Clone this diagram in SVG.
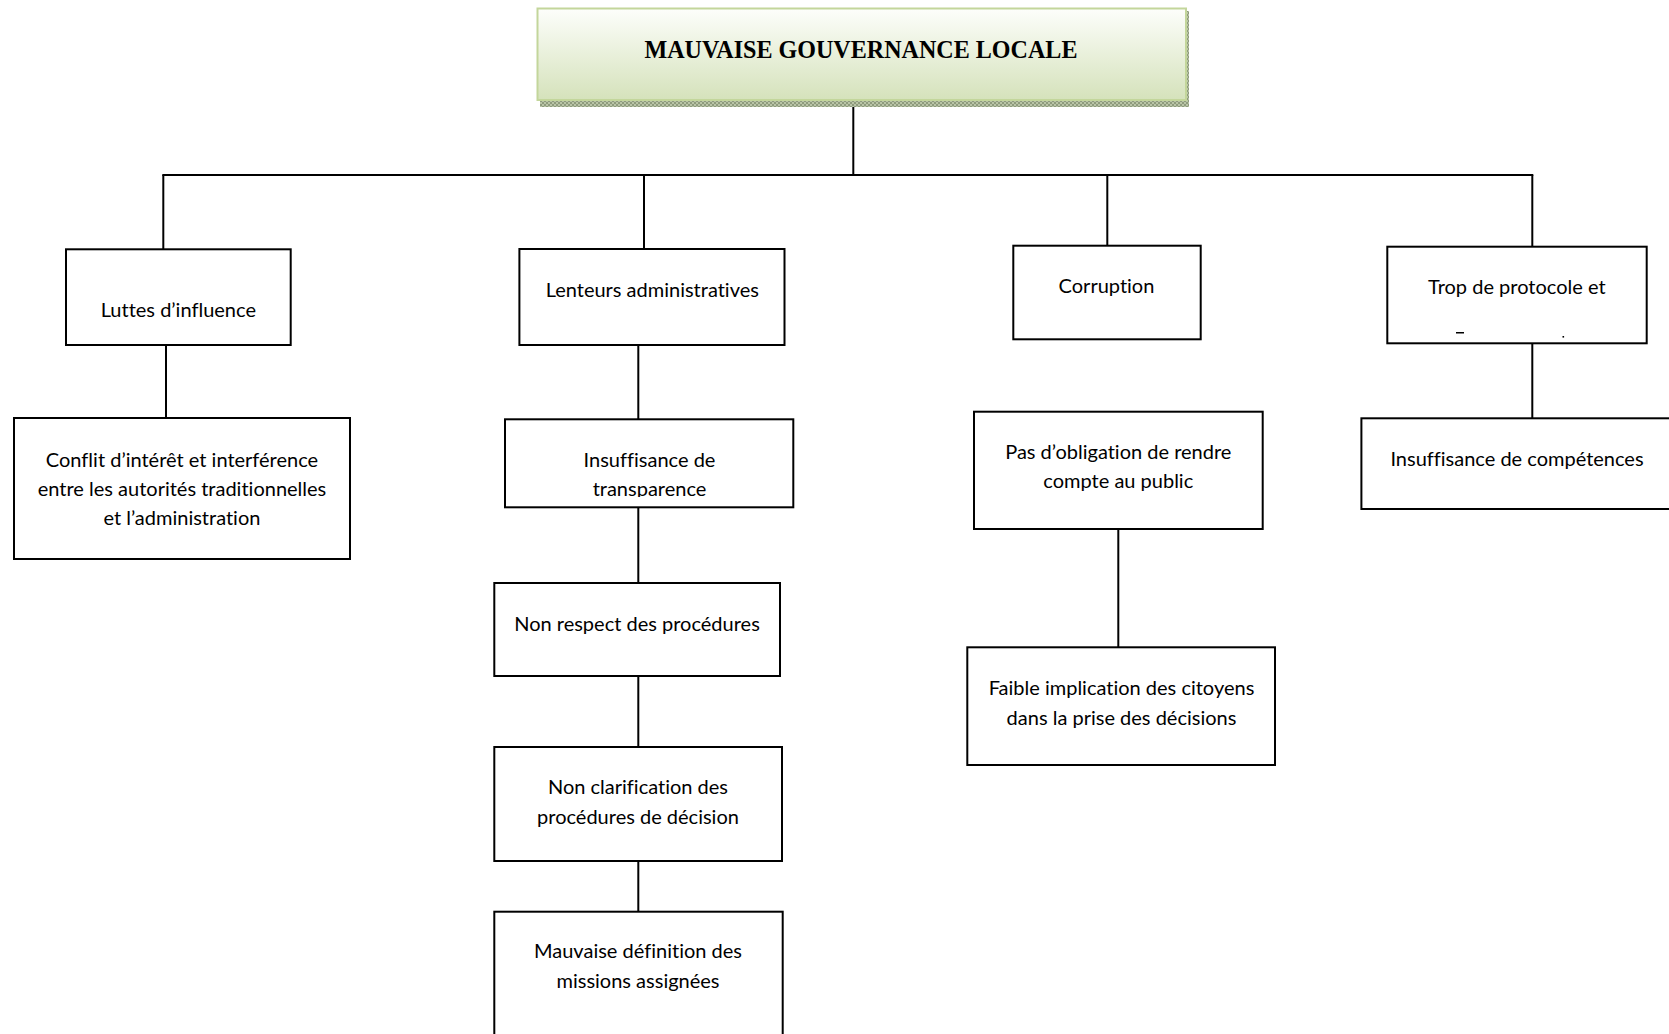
<svg xmlns="http://www.w3.org/2000/svg" width="1669" height="1034" viewBox="0 0 1669 1034">
  <style>
    .box { fill: #ffffff; stroke: #000000; stroke-width: 2; }
    .wire { fill: none; stroke: #000000; stroke-width: 2; }
    .lbl { font-family: Lato, "Open Sans", "Liberation Sans", sans-serif; font-size: 20px; fill: #000000; text-anchor: middle; font-variant-ligatures: none; }
    .title { font-family: "Liberation Serif", "Times New Roman", serif; font-weight: bold; font-size: 25px; fill: #000000; text-anchor: middle; }
  </style>
  <defs>
    <linearGradient id="titleFill" x1="0" y1="0" x2="0" y2="1">
      <stop offset="0" stop-color="#fdfefb"/>
      <stop offset="1" stop-color="#d5e2bb"/>
    </linearGradient>
    <pattern id="shadowDots" width="4" height="4" patternUnits="userSpaceOnUse">
      <rect width="4" height="4" fill="#b9c4a6"/>
      <rect width="2" height="2" fill="#8e9b7d"/>
      <rect x="2" y="2" width="2" height="2" fill="#8e9b7d"/>
    </pattern>
    <clipPath id="clipTransparence">
      <rect x="505" y="419" width="288" height="78"/>
    </clipPath>
  </defs>

  <rect width="1669" height="1034" fill="#ffffff"/>

  <!-- connectors -->
  <g id="connectors">
    <line class="wire" x1="853.3" y1="100" x2="853.3" y2="175"/>
    <line class="wire" x1="162.3" y1="175" x2="1533.3" y2="175"/>
    <line class="wire" x1="163.3" y1="175" x2="163.3" y2="249.3"/>
    <line class="wire" x1="644" y1="175" x2="644" y2="249"/>
    <line class="wire" x1="1107.3" y1="175" x2="1107.3" y2="245.7"/>
    <line class="wire" x1="1532.3" y1="175" x2="1532.3" y2="246.7"/>
    <line class="wire" x1="166" y1="345" x2="166" y2="418"/>
    <line class="wire" x1="638.3" y1="345" x2="638.3" y2="419.3"/>
    <line class="wire" x1="638.3" y1="507.3" x2="638.3" y2="583"/>
    <line class="wire" x1="638.3" y1="676" x2="638.3" y2="747"/>
    <line class="wire" x1="638.3" y1="861" x2="638.3" y2="911.7"/>
    <line class="wire" x1="1118.3" y1="529" x2="1118.3" y2="647.3"/>
    <line class="wire" x1="1532.3" y1="343.3" x2="1532.3" y2="418.3"/>
  </g>

  <!-- root -->
  <g id="node-root">
    <rect x="540" y="11" width="649" height="96" fill="url(#shadowDots)"/>
    <rect x="537.5" y="8.5" width="648.5" height="91.5" fill="url(#titleFill)" stroke="#c3d69b" stroke-width="2"/>
    <text class="title" x="861" y="58.3" textLength="433" lengthAdjust="spacingAndGlyphs">MAUVAISE GOUVERNANCE LOCALE</text>
  </g>

  <!-- first level -->
  <g id="node-luttes">
    <rect class="box" x="66" y="249.3" width="224.7" height="95.7"/>
    <text class="lbl" x="178.3" y="317">Luttes d’influence</text>
  </g>
  <g id="node-lenteurs">
    <rect class="box" x="519.4" y="249" width="265.1" height="96"/>
    <text class="lbl" x="652.3" y="296.5">Lenteurs administratives</text>
  </g>
  <g id="node-corruption">
    <rect class="box" x="1013.3" y="245.7" width="187.4" height="93.6"/>
    <text class="lbl" x="1106.5" y="292.7">Corruption</text>
  </g>
  <g id="node-protocole">
    <rect class="box" x="1387.3" y="246.7" width="259.4" height="96.6"/>
    <text class="lbl" x="1516.8" y="294">Trop de protocole et</text>
    <!-- wrapped second line is cut off by the frame; only two specks remain -->
    <rect x="1456" y="332" width="8" height="1.5" fill="#000000"/>
    <rect x="1562.5" y="336" width="1.6" height="1.6" fill="#000000"/>
  </g>

  <!-- second level -->
  <g id="node-conflit">
    <rect class="box" x="14" y="418" width="336" height="141"/>
    <text class="lbl" x="182" y="466.5">Conflit d’intérêt et interférence</text>
    <text class="lbl" x="182" y="495.5">entre les autorités traditionnelles</text>
    <text class="lbl" x="182" y="525">et l’administration</text>
  </g>
  <g id="node-transparence">
    <rect class="box" x="505" y="419.3" width="288.3" height="88"/>
    <g clip-path="url(#clipTransparence)">
      <text class="lbl" x="649.5" y="466.7">Insuffisance de</text>
      <text class="lbl" x="649.5" y="495.5">transparence</text>
    </g>
  </g>
  <g id="node-procedures">
    <rect class="box" x="494.3" y="583" width="285.7" height="93"/>
    <text class="lbl" x="637" y="631">Non respect des procédures</text>
  </g>
  <g id="node-clarification">
    <rect class="box" x="494.3" y="747" width="287.7" height="114"/>
    <text class="lbl" x="638" y="794">Non clarification des</text>
    <text class="lbl" x="638" y="823.5">procédures de décision</text>
  </g>
  <g id="node-missions">
    <rect class="box" x="494.3" y="911.7" width="288.4" height="140"/>
    <text class="lbl" x="638" y="958.3">Mauvaise définition des</text>
    <text class="lbl" x="638" y="988">missions assignées</text>
  </g>
  <g id="node-obligation">
    <rect class="box" x="974" y="411.7" width="288.7" height="117.3"/>
    <text class="lbl" x="1118.3" y="459.3">Pas d’obligation de rendre</text>
    <text class="lbl" x="1118.3" y="488.3">compte au public</text>
  </g>
  <g id="node-implication">
    <rect class="box" x="967.3" y="647.3" width="307.7" height="117.7"/>
    <text class="lbl" x="1121.5" y="695">Faible implication des citoyens</text>
    <text class="lbl" x="1121.5" y="725">dans la prise des décisions</text>
  </g>
  <g id="node-competences">
    <rect class="box" x="1361.4" y="418.3" width="330" height="90.7"/>
    <text class="lbl" x="1517" y="466">Insuffisance de compétences</text>
  </g>
</svg>
